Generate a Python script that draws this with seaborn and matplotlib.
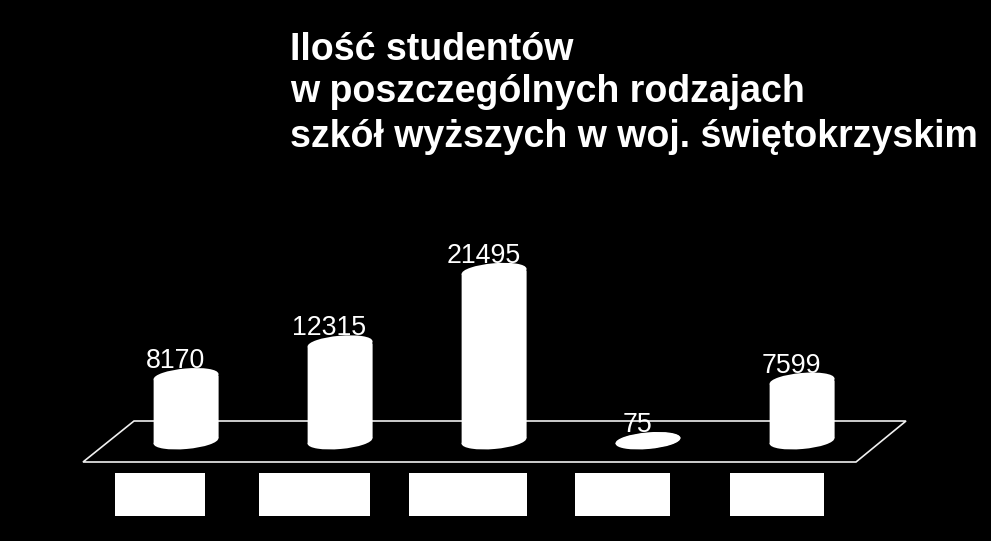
import math
import matplotlib
matplotlib.use("Agg")
import matplotlib.pyplot as plt
import seaborn as sns
import pandas as pd
from matplotlib.patches import Ellipse, Rectangle, Polygon
from matplotlib.path import Path
from matplotlib.transforms import IdentityTransform

categories = ["A", "B", "C", "D", "E"]
students = [8170, 12315, 21495, 75, 7599]
title_lines = ["Ilość studentów", "w poszczególnych rodzajach", "szkół wyższych w woj. świętokrzyskim"]

W, H = 991, 541
sns.set_style("dark", {"axes.facecolor": "black", "figure.facecolor": "black"})
plt.rcParams["font.family"] = ["Liberation Sans", "DejaVu Sans"]

fig = plt.figure(figsize=(W / 100, H / 100), dpi=100, facecolor="black")
ax = fig.add_axes([0, 0, 1, 1], facecolor="black")

df = pd.DataFrame({"kategoria": categories, "studenci": students})
sns.barplot(data=df, x="kategoria", y="studenci", order=categories, color="white",
            saturation=1, width=65 / 154, ax=ax, zorder=3, linewidth=0)

px_per_unit = 60 / 7599
base_y_px = 441
ax.set_xlim(-186 / 154, (W - 186) / 154)
ax.set_ylim(-(H - base_y_px) / px_per_unit, base_y_px / px_per_unit)
ax.set_axis_off()

px = lambda x0, y0: (x0, H - y0)

# platform
ax.add_patch(Polygon([px(83, 462), px(856, 462), px(906, 421), px(134, 421)], closed=True,
                     fill=False, edgecolor="#f0f0f0", linewidth=1.2, transform=IdentityTransform(),
                     zorder=1))

# cylinder caps, side wall and value labels
tilt = 5
hw, hh = 32.5, 8
dx, dy = hw * math.cos(math.radians(tilt)), hw * math.sin(math.radians(tilt))
for i, (v, bar) in enumerate(zip(students, ax.patches)):
    bx, by = ax.transData.transform((i, 0))
    tx, ty = ax.transData.transform((i, v))
    for cx, cy in ((bx, by), (tx, ty)):
        ax.add_patch(Ellipse((cx, cy), 2 * hw, 2 * hh, angle=tilt, facecolor="white", edgecolor="none",
                             transform=IdentityTransform(), zorder=4))
    wall = [(tx - dx, ty - dy), (tx + dx, ty + dy), (bx + dx, by + dy), (bx - dx, by - dy)]
    ax.add_patch(Polygon(wall, closed=True, facecolor="white", edgecolor="none",
                         transform=IdentityTransform(), zorder=4))
    bar.set_clip_path(Path(wall + wall[:1]), IdentityTransform())
    ax.annotate(str(v), xy=(i, v), xytext=(-10.5 * 0.72, 6), textcoords="offset points",
                ha="center", va="baseline", color="white", fontsize=19.3, zorder=5)

# white boxes that hide the category labels
for x0, x1 in [(115, 205), (259, 370), (409, 527), (575, 670), (730, 824)]:
    ax.add_patch(Rectangle(px(x0, 516), x1 - x0, 43, facecolor="white", edgecolor="none",
                           transform=IdentityTransform(), zorder=2))

# title
for line, y0 in zip(title_lines, (60, 102, 147)):
    fig.text(290 / W, 1 - y0 / H, line, color="white", fontsize=27, fontweight="bold",
             ha="left", va="baseline")

fig.savefig("out.png", dpi=100, facecolor="black")
